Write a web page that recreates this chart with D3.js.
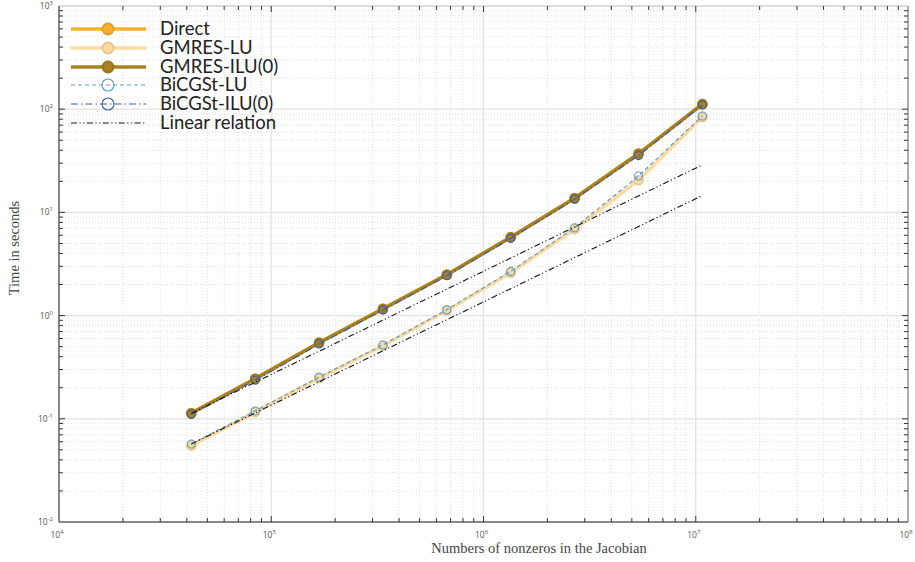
<!DOCTYPE html>
<html>
<head>
<meta charset="utf-8">
<script src="https://cdn.jsdelivr.net/npm/d3@7"></script>
<style>
  body { margin: 0; background: #fff; }
  .tick-lbl { font-family: "Open Sans", sans-serif; font-size: 8.5px; fill: #555; }
  .ax-title { font-family: "Liberation Serif", serif; font-size: 14.5px; fill: #444; }
  .leg { font-family: Lato, "Open Sans", sans-serif; font-size: 18.5px; fill: #222; }
</style>
</head>
<body>
<svg id="chart" width="915" height="562"></svg>
<script>
// data
var nnz = [42000, 84000, 168000, 336000, 672000, 1344000, 2688000, 5376000, 10752000];
var direct     = [0.114, 0.245, 0.548, 1.17, 2.50, 5.76, 13.8, 37.2, 112];
var gmresLU    = [0.055, 0.116, 0.248, 0.51, 1.12, 2.60, 6.9, 20.5, 84];
var gmresILU   = [0.113, 0.244, 0.546, 1.16, 2.49, 5.74, 13.7, 37.0, 112];
var bicgLU     = [0.057, 0.119, 0.253, 0.519, 1.14, 2.68, 7.1, 22.5, 86];
var bicgILU    = [0.110, 0.236, 0.530, 1.13, 2.43, 5.6, 13.4, 35.5, 110];
var linX       = [42000, 10752000];
var linUpper   = [0.113, 28.9];
var linLower   = [0.057, 14.6];
var xTicks = [1e4, 1e5, 1e6, 1e7, 1e8];
var yTicks = [1e-2, 1e-1, 1e0, 1e1, 1e2, 1e3];

var pLeft = 59, pRight = 908, pTop = 6, pBottom = 522;

var svg = d3.select("#chart");
var x = d3.scaleLog().domain([1e4, 1e8]).range([pLeft, pRight]);
var y = d3.scaleLog().domain([1e-2, 1e3]).range([pBottom, pTop]);

// minor values
var xMinor = [], yMinor = [];
for (var e = 4; e < 8; e++) for (var k = 2; k <= 9; k++) xMinor.push(k * Math.pow(10, e));
for (var e2 = -2; e2 < 3; e2++) for (var k2 = 2; k2 <= 9; k2++) yMinor.push(k2 * Math.pow(10, e2));

var grid = svg.append("g");
grid.selectAll(".xm").data(xMinor).enter().append("line")
  .attr("x1", d => x(d)).attr("x2", d => x(d)).attr("y1", pTop).attr("y2", pBottom)
  .attr("stroke", "#d6d6d6").attr("stroke-dasharray", "1,2").attr("stroke-width", 0.8);
grid.selectAll(".ym").data(yMinor).enter().append("line")
  .attr("y1", d => y(d)).attr("y2", d => y(d)).attr("x1", pLeft).attr("x2", pRight)
  .attr("stroke", "#d6d6d6").attr("stroke-dasharray", "1,2").attr("stroke-width", 0.8);
grid.selectAll(".xM").data(xTicks).enter().append("line")
  .attr("x1", d => x(d)).attr("x2", d => x(d)).attr("y1", pTop).attr("y2", pBottom)
  .attr("stroke", "#e2e2e2").attr("stroke-width", 1.2);
grid.selectAll(".yM").data(yTicks).enter().append("line")
  .attr("y1", d => y(d)).attr("y2", d => y(d)).attr("x1", pLeft).attr("x2", pRight)
  .attr("stroke", "#e2e2e2").attr("stroke-width", 1.2);

// box + inward ticks
var axG = svg.append("g");
axG.append("line").attr("x1", pLeft).attr("x2", pRight).attr("y1", pTop).attr("y2", pTop).attr("stroke", "#c8c8c8");
axG.append("line").attr("x1", pRight).attr("x2", pRight).attr("y1", pTop).attr("y2", pBottom).attr("stroke", "#999").attr("stroke-width", 1.5);
axG.append("line").attr("x1", pLeft).attr("x2", pRight).attr("y1", pBottom).attr("y2", pBottom).attr("stroke", "#666").attr("stroke-width", 1.5);
axG.append("line").attr("x1", pLeft).attr("x2", pLeft).attr("y1", pTop).attr("y2", pBottom).attr("stroke", "#666").attr("stroke-width", 1.5);

var xAll = xMinor.concat(xTicks.slice(1, 4));
var yAll = yMinor.concat(yTicks.slice(1, 5));
axG.selectAll(".xtb").data(xAll).enter().append("line")
  .attr("x1", d => x(d)).attr("x2", d => x(d)).attr("y1", pBottom)
  .attr("y2", d => pBottom - (xTicks.indexOf(d) >= 0 ? 6 : 4)).attr("stroke", "#333");
axG.selectAll(".xtt").data(xAll).enter().append("line")
  .attr("x1", d => x(d)).attr("x2", d => x(d)).attr("y1", pTop)
  .attr("y2", d => pTop + (xTicks.indexOf(d) >= 0 ? 6 : 4)).attr("stroke", "#333");
axG.selectAll(".ytl").data(yAll).enter().append("line")
  .attr("y1", d => y(d)).attr("y2", d => y(d)).attr("x1", pLeft)
  .attr("x2", d => pLeft + (yTicks.indexOf(d) >= 0 ? 6 : 4)).attr("stroke", "#333");
axG.selectAll(".ytr").data(yAll).enter().append("line")
  .attr("y1", d => y(d)).attr("y2", d => y(d)).attr("x1", pRight)
  .attr("x2", d => pRight - (yTicks.indexOf(d) >= 0 ? 6 : 4)).attr("stroke", "#333");

// tick labels
function powLabel(t, d) {
  t.append("tspan").text("10");
  t.append("tspan").attr("dy", -4).attr("font-size", "6px").text(Math.round(Math.log10(d)));
}
svg.selectAll(".xl").data(xTicks).enter().append("text").attr("class", "tick-lbl")
  .attr("x", d => x(d) - 2).attr("y", pBottom + 16).attr("text-anchor", "middle")
  .each(function (d) { powLabel(d3.select(this), d); });
svg.selectAll(".yl").data(yTicks).enter().append("text").attr("class", "tick-lbl")
  .attr("x", pLeft - 6).attr("y", d => y(d) + 3).attr("text-anchor", "end")
  .each(function (d) { powLabel(d3.select(this), d); });

svg.append("text").attr("class", "ax-title").attr("x", 539).attr("y", 553)
  .attr("text-anchor", "middle").text("Numbers of nonzeros in the Jacobian");
svg.append("text").attr("class", "ax-title").attr("transform", "translate(19,248) rotate(-90)")
  .attr("text-anchor", "middle").text("Time in seconds");

// series
var series = [
  { name: "Direct", vals: direct, color: "#F7B02A", width: 3.5, dash: null, marker: "fill" },
  { name: "GMRES-LU", vals: gmresLU, color: "#FDDA9E", width: 3.5, dash: null, marker: "fill" },
  { name: "GMRES-ILU(0)", vals: gmresILU, color: "#A88121", width: 3.5, dash: null, marker: "fill" },
  { name: "BiCGSt-LU", vals: bicgLU, color: "#5B9BD5", width: 1.2, dash: "4,3", marker: "open" },
  { name: "BiCGSt-ILU(0)", vals: bicgILU, color: "#3A5EA8", width: 1.2, dash: "7,3,1.5,3", marker: "open" }
];

var line = d3.line().x(d => x(d[0])).y(d => y(d[1]));

series.forEach(function (s) {
  var pts = nnz.map((v, i) => [v, s.vals[i]]);
  var g = svg.append("g");
  g.append("path").attr("d", line(pts)).attr("fill", "none").attr("stroke", s.color)
    .attr("stroke-width", s.width).attr("stroke-dasharray", s.dash);
  g.selectAll("circle").data(pts).enter().append("circle")
    .attr("cx", d => x(d[0])).attr("cy", d => y(d[1]))
    .attr("r", s.marker === "fill" ? 4.5 : 4)
    .attr("fill", s.marker === "fill" ? s.color : "none")
    .attr("stroke", s.marker === "fill" ? d3.rgb(s.color).darker(0.3) : s.color)
    .attr("stroke-width", s.marker === "fill" ? 1.5 : 1.1);
});

[linUpper, linLower].forEach(function (vals) {
  var pts = linX.map((v, i) => [v, vals[i]]);
  svg.append("path").attr("d", line(pts)).attr("fill", "none").attr("stroke", "#111")
    .attr("stroke-width", 1.1).attr("stroke-dasharray", "6,2.5,1.2,2.5,1.2,2.5");
});

// legend
var legItems = series.concat([{ name: "Linear relation", color: "#111", width: 1.1, dash: "6,2.5,1.2,2.5,1.2,2.5", marker: null }]);
var legY = [29, 48, 67, 85, 104, 123];
var leg = svg.append("g");
legItems.forEach(function (s, i) {
  var gy = legY[i];
  leg.append("line").attr("x1", 71).attr("x2", 146).attr("y1", gy).attr("y2", gy)
    .attr("stroke", s.color).attr("stroke-width", s.width).attr("stroke-dasharray", s.dash);
  if (s.marker) {
    leg.append("circle").attr("cx", 108).attr("cy", gy).attr("r", s.marker === "fill" ? 5.5 : 6)
      .attr("fill", s.marker === "fill" ? s.color : "none")
      .attr("stroke", s.marker === "fill" ? d3.rgb(s.color).darker(0.3) : s.color)
      .attr("stroke-width", s.marker === "fill" ? 1.8 : 1.1);
  }
  leg.append("text").attr("class", "leg").attr("x", 160).attr("y", gy + 6).text(s.name);
});
</script>
</body>
</html>
